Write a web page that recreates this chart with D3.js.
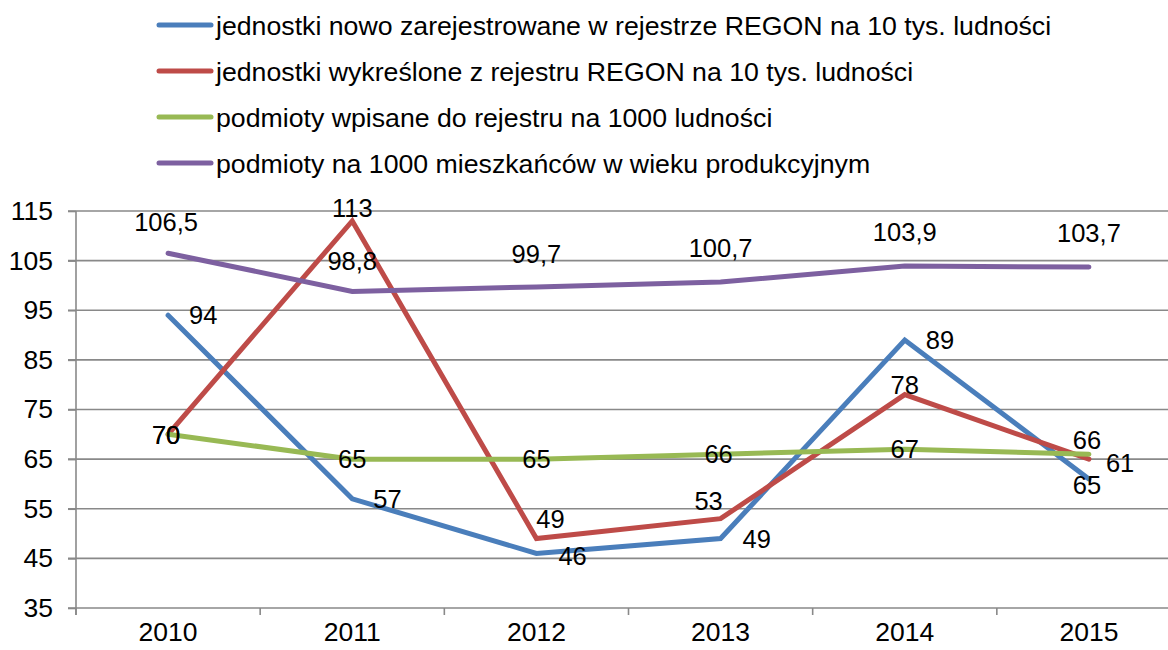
<!DOCTYPE html>
<html>
<head>
    <meta charset='UTF-8'>
    <title>REGON</title>
    <script src='https://d3js.org/d3.v7.min.js'></script>
    <style>
        body { margin: 0; background: #fff; }
        text { font-family: 'Liberation Sans', Arial, sans-serif; fill: #000; }
    </style>
</head>
<body>
<div id="graph"></div>
<script>
var years = ['2010', '2011', '2012', '2013', '2014', '2015'];
var yTicks = [35, 45, 55, 65, 75, 85, 95, 105, 115];

var seriesNames = [
    'jednostki nowo zarejestrowane w rejestrze REGON na 10 tys. ludności',
    'jednostki wykreślone z rejestru REGON na 10 tys. ludności',
    'podmioty wpisane do rejestru na 1000 ludności',
    'podmioty na 1000 mieszkańców w wieku produkcyjnym'
];
var nowe = [94, 57, 46, 49, 89, 61];
var wykreslone = [70, 113, 49, 53, 78, 65];
var wpisane = [70, 65, 65, 66, 67, 66];
var produkcyjny = [106.5, 98.8, 99.7, 100.7, 103.9, 103.7];

var colors = ['#4a7ebb', '#be4b48', '#98b954', '#7d60a0'];

// label placement (dx, dy from the point, anchor) - style only
var labelPos = [
    [[21,0,'start'],[21,0,'start'],[22,2,'start'],[22,0,'start'],[21,0,'start'],[17,-16,'start']],
    [[-2,1,'middle'],[0,-13,'middle'],[14,-20,'middle'],[-12,-18,'middle'],[0,-10,'middle'],[-2,26,'middle']],
    [[-2,1,'middle'],[0,0,'middle'],[0,0,'middle'],[-2,0,'middle'],[0,0,'middle'],[-2,-14,'middle']],
    [[-2,-31,'middle'],[0,-31,'middle'],[0,-33,'middle'],[0,-34,'middle'],[0,-34,'middle'],[0,-34,'middle']]
];

var series = [nowe, wykreslone, wpisane, produkcyjny];
var fmt = d => String(d).replace('.', ',');

var W = 1168, H = 650;
var svg = d3.select('#graph').append('svg')
    .attr('width', W).attr('height', H);

var x = d3.scaleBand().domain(years).range([76, 1181]).padding(0);
var y = d3.scaleLinear().domain([35, 115]).range([608, 211]);

// gridlines
svg.append('g')
   .selectAll('line')
   .data(yTicks)
   .enter()
   .append('line')
   .attr('x1', 68).attr('x2', W)
   .attr('y1', d => y(d)).attr('y2', d => y(d))
   .style('stroke', '#898989')
   .style('stroke-width', 1.6);

// y axis
var yAxis = svg.append('g')
   .attr('transform', 'translate(76,0)')
   .call(d3.axisLeft(y).tickValues(yTicks).tickSize(8).tickPadding(15));
yAxis.select('.domain').attr('d', 'M0,' + y(115) + 'V615').style('stroke', '#898989').style('stroke-width', 1.6);
yAxis.selectAll('.tick line').style('stroke', '#898989').style('stroke-width', 1.6);
yAxis.selectAll('.tick text').style('font-size', '26.5px').style('font-family', "'Liberation Sans', Arial, sans-serif");

// x axis
var xAxis = svg.append('g')
   .attr('transform', 'translate(0,' + y(35) + ')')
   .call(d3.axisBottom(x).tickSize(0).tickPadding(14));
xAxis.select('.domain').remove();
xAxis.selectAll('.tick text').style('font-size', '26.5px').style('font-family', "'Liberation Sans', Arial, sans-serif");

// category separator ticks
svg.append('g')
   .selectAll('line')
   .data(years)
   .enter()
   .append('line')
   .attr('x1', d => x(d)).attr('x2', d => x(d))
   .attr('y1', y(35)).attr('y2', y(35) + 7)
   .style('stroke', '#898989')
   .style('stroke-width', 1.6);

var line = d3.line()
    .x((d, i) => x(years[i]) + x.bandwidth() / 2)
    .y(d => y(d));

series.forEach(function(s, k) {
    svg.append('path')
       .datum(s)
       .attr('d', line)
       .style('fill', 'none')
       .style('stroke', colors[k])
       .style('stroke-width', 5)
       .style('stroke-linecap', 'round');
});

series.forEach(function(s, k) {
    svg.append('g')
       .selectAll('text')
       .data(s)
       .enter()
       .append('text')
       .attr('x', (d, i) => x(years[i]) + x.bandwidth() / 2 + labelPos[k][i][0])
       .attr('y', (d, i) => y(d) + labelPos[k][i][1])
       .attr('dy', '0.36em')
       .attr('text-anchor', (d, i) => labelPos[k][i][2])
       .style('font-size', '25.5px')
       .text(fmt);
});

// legend
var legend = svg.append('g')
   .selectAll('g')
   .data(seriesNames)
   .enter()
   .append('g')
   .attr('transform', (d, i) => 'translate(0,' + (25 + i * 46) + ')');

legend.append('line')
   .attr('x1', 159).attr('x2', 211)
   .attr('y1', 0).attr('y2', 0)
   .style('stroke', (d, i) => colors[i])
   .style('stroke-width', 5)
   .style('stroke-linecap', 'round');

legend.append('text')
   .attr('x', 216)
   .attr('y', 0)
   .attr('dy', '0.36em')
   .style('font-size', '26.7px')
   .text(d => d);
</script>
</body>
</html>
